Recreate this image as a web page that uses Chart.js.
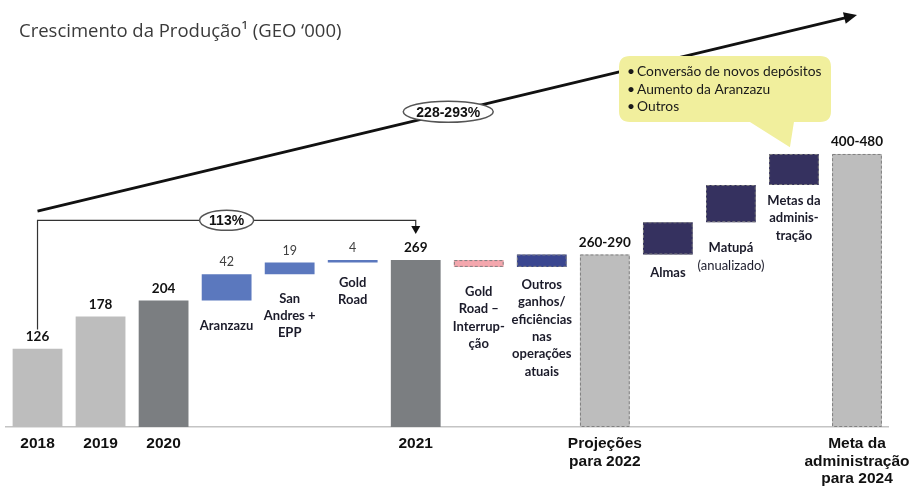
<!DOCTYPE html>
<html>
<head>
<meta charset="utf-8">
<script src="https://cdn.jsdelivr.net/npm/chart.js@4/dist/chart.umd.min.js"></script>
<style>
  html, body { margin: 0; padding: 0; background: #ffffff; }
  #wrap { width: 914px; height: 488px; }
</style>
</head>
<body>
<div id="wrap"><canvas id="c" width="914" height="488"></canvas></div>
<script>
// ---- data ----
const title = 'Crescimento da Produção¹ (GEO ‘000)';
const categories = ['2018','2019','2020','Aranzazu','San Andres + EPP','Gold Road','2021',
  'Gold Road – Interrupção','Outros ganhos','Projeções para 2022','Almas','Matupá',
  'Metas da administração','Meta da administração para 2024'];
const axisLabels = [['2018'],['2019'],['2020'],[''],[''],[''],['2021'],[''],[''],
  ['Projeções','para 2022'],[''],[''],[''],['Meta da','administração','para 2024']];
const barBase = [0, 0, 0, 204, 246, 265, 0, 258, 258, 0, 278, 330, 390, 0];
const barTop  = [126, 178, 204, 246, 265, 269, 269, 269, 278, 278, 330, 390, 440, 440];
const valueLabels = ['126','178','204','42','19','4','269','','','260-290','','','','400-480'];
const stepLabels = [[],[],[],['Aranzazu'],['San','Andres +','EPP'],['Gold','Road'],[],
  ['Gold','Road –','Interrup-','ção'],['Outros','ganhos/','eficiências','nas','operações','atuais'],
  [],['Almas'],['Matupá','(anualizado)'],['Metas da','adminis-','tração'],[]];
const calloutItems = ['Conversão de novos depósitos','Aumento da Aranzazu','Outros'];
const growth2021 = '113%';
const growth2024 = '228-293%';

// ---- styles ----
const kind = ['hist','hist','total','step','step','step','total','neg','proj','hist','proj','proj','proj','hist'];
const fillFor = {hist:'#bdbdbd', total:'#7b7e81', step:'#5b78be', neg:'#f4a7ae', proj:'#35315f'};
const colors = kind.map((k,i)=> i===8 ? '#3a4690' : fillFor[k]);
const dashed = [false,false,false,false,false,false,false,true,true,true,true,true,true,true];
const stepGap = [0,0,0,25,24,20,0,25,18,0,18,26,16,0];

const annot = {
  id: 'annot',
  afterDraw(chart) {
    const ctx = chart.ctx;
    const meta = chart.getDatasetMeta(0);
    const ys = chart.scales.y;
    ctx.save();
    // title
    ctx.fillStyle = '#3a3a3a';
    ctx.font = '18.5px "Open Sans", sans-serif';
    ctx.textAlign = 'left';
    ctx.textBaseline = 'middle';
    ctx.fillText(title, 19, 32);

    // dashed borders
    meta.data.forEach((el, i) => {
      if (!dashed[i]) return;
      const p = el.getProps(['x','y','base','width'], true);
      const top = Math.min(p.y, p.base), bot = Math.max(p.y, p.base);
      ctx.save();
      ctx.setLineDash([3, 2]);
      ctx.lineWidth = 1;
      ctx.strokeStyle = '#808080';
      ctx.strokeRect(p.x - p.width/2 + 0.5, top + 0.5, p.width - 1, bot - top - 1);
      ctx.restore();
    });

    // value labels
    meta.data.forEach((el, i) => {
      const txt = valueLabels[i];
      if (!txt) return;
      const p = el.getProps(['x','y','base'], true);
      const top = Math.min(p.y, p.base);
      const isStep = kind[i] === 'step';
      ctx.fillStyle = isStep ? '#404040' : '#111111';
      ctx.font = isStep ? '12.5px Lato, sans-serif' : 'bold 13.5px Lato, sans-serif';
      ctx.textAlign = 'center';
      ctx.textBaseline = 'middle';
      ctx.fillText(txt, p.x, top - 12);
    });

    // step labels below floating bars
    meta.data.forEach((el, i) => {
      const lines = stepLabels[i];
      if (!lines.length) return;
      const p = el.getProps(['x','y','base'], true);
      const bot = Math.max(p.y, p.base);
      ctx.textAlign = 'center';
      ctx.textBaseline = 'middle';
      lines.forEach((ln, j) => {
        const normal = ln.startsWith('(');
        ctx.font = (normal ? '' : 'bold ') + '13px Lato, sans-serif';
        ctx.fillStyle = '#1b1b2a';
        ctx.fillText(ln, p.x, bot + stepGap[i] + j * 17.3);
      });
    });

    // big trend arrow
    const x0 = meta.data[0].x, x13 = meta.data[13].x, x6 = meta.data[6].x;
    const ax0 = x0, ay0 = ys.getPixelForValue(348);
    const ax1 = x13, ay1 = ys.getPixelForValue(664);
    ctx.strokeStyle = '#111';
    ctx.fillStyle = '#111';
    ctx.lineWidth = 2.8;
    ctx.beginPath();
    ctx.moveTo(ax0, ay0);
    const ang = Math.atan2(ay1 - ay0, ax1 - ax0);
    ctx.lineTo(ax1 - 8*Math.cos(ang), ay1 - 8*Math.sin(ang));
    ctx.stroke();
    ctx.beginPath();
    ctx.moveTo(ax1, ay1);
    ctx.lineTo(ax1 - 13*Math.cos(ang) + 6*Math.sin(ang), ay1 - 13*Math.sin(ang) - 6*Math.cos(ang));
    ctx.lineTo(ax1 - 13*Math.cos(ang) - 6*Math.sin(ang), ay1 - 13*Math.sin(ang) + 6*Math.cos(ang));
    ctx.closePath();
    ctx.fill();

    function oval(cx, cy, rx, ry, txt) {
      ctx.beginPath();
      ctx.ellipse(cx, cy, rx, ry, 0, 0, Math.PI*2);
      ctx.fillStyle = '#ffffff';
      ctx.fill();
      ctx.lineWidth = 1.5;
      ctx.strokeStyle = '#555';
      ctx.stroke();
      ctx.fillStyle = '#111';
      ctx.font = 'bold 14px "Liberation Sans", Arial, sans-serif';
      ctx.textAlign = 'center';
      ctx.textBaseline = 'middle';
      ctx.fillText(txt, cx, cy + 1);
    }
    const mx = (ax0 + ax1) / 2 + 1;
    const my = ay0 + (ay1 - ay0) * ((mx - ax0) / (ax1 - ax0));
    oval(mx, my - 1, 45, 10.5, growth2024);

    // 113% bracket
    const by = ys.getPixelForValue(333);
    ctx.strokeStyle = '#333';
    ctx.lineWidth = 1.2;
    ctx.beginPath();
    ctx.moveTo(x0, ys.getPixelForValue(157));
    ctx.lineTo(x0, by);
    ctx.lineTo(x6, by);
    ctx.lineTo(x6, ys.getPixelForValue(318));
    ctx.stroke();
    ctx.fillStyle = '#111';
    ctx.beginPath();
    const tipY = ys.getPixelForValue(311);
    ctx.moveTo(x6, tipY);
    ctx.lineTo(x6 - 4.5, tipY - 8);
    ctx.lineTo(x6 + 4.5, tipY - 8);
    ctx.closePath();
    ctx.fill();
    oval((x0 + x6) / 2, by, 27, 10, growth2021);

    // callout bubble
    const bx = 619, bw = 212, btop = 56, bh = 66, r = 11;
    const tipX = meta.data[12].x - 4, tipYc = ys.getPixelForValue(451);
    ctx.fillStyle = '#f1ef9d';
    ctx.beginPath();
    ctx.moveTo(bx + r, btop);
    ctx.lineTo(bx + bw - r, btop);
    ctx.quadraticCurveTo(bx + bw, btop, bx + bw, btop + r);
    ctx.lineTo(bx + bw, btop + bh - r);
    ctx.quadraticCurveTo(bx + bw, btop + bh, bx + bw - r, btop + bh);
    ctx.lineTo(tipX + 4, btop + bh);
    ctx.lineTo(tipX, tipYc);
    ctx.lineTo(tipX - 40, btop + bh);
    ctx.lineTo(bx + r, btop + bh);
    ctx.quadraticCurveTo(bx, btop + bh, bx, btop + bh - r);
    ctx.lineTo(bx, btop + r);
    ctx.quadraticCurveTo(bx, btop, bx + r, btop);
    ctx.closePath();
    ctx.fill();
    ctx.fillStyle = '#1a1a1a';
    ctx.font = '13.8px Lato, sans-serif';
    ctx.textAlign = 'left';
    ctx.textBaseline = 'middle';
    calloutItems.forEach((t, j) => {
      const yy = 72 + j * 17.5;
      ctx.fillText('•', 627, yy);
      ctx.fillText(t, 637, yy);
    });
    ctx.restore();
  }
};

new Chart(document.getElementById('c'), {
  type: 'bar',
  data: {
    labels: axisLabels,
    datasets: [{
      label: 'Produção',
      data: barBase.map((b, i) => [b, barTop[i]]),
      backgroundColor: colors,
      borderWidth: 0,
      borderSkipped: false,
      barPercentage: 0.79,
      categoryPercentage: 1
    }]
  },
  options: {
    responsive: false,
    devicePixelRatio: 1,
    animation: false,
    layout: { padding: { left: 6, right: 25.5, top: 10, bottom: 0 } },
    plugins: { legend: { display: false }, title: { display: false }, tooltip: { enabled: false } },
    scales: {
      y: { display: false, min: 0, max: 672, stacked: false },
      x: {
        grid: { display: false, drawTicks: false },
        border: { display: true, color: '#c4c4c4', width: 1.5 },
        ticks: {
          autoSkip: false, maxRotation: 0, padding: 8,
          color: '#111',
          font: { family: '"Liberation Sans", Arial, sans-serif', size: 15.5, weight: 'bold', lineHeight: 1.13 }
        },
        afterFit(scale) { scale.height = 61; scale.paddingLeft = 0; scale.paddingRight = 0; }
      }
    }
  },
  plugins: [annot]
});
</script>
</body>
</html>
